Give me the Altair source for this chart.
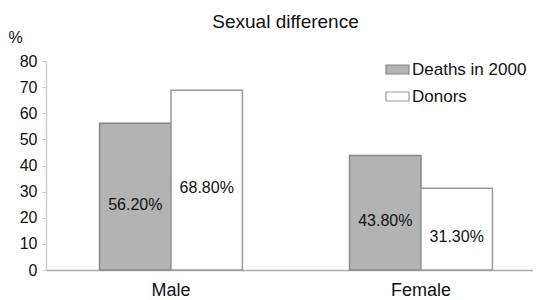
import altair as alt
import pandas as pd

categories = ["Male", "Male", "Female", "Female"]
series = ["Deaths in 2000", "Donors", "Deaths in 2000", "Donors"]
values = [56.2, 68.8, 43.8, 31.3]
labels = ["56.20%", "68.80%", "43.80%", "31.30%"]
y_ticks = [0, 10, 20, 30, 40, 50, 60, 70, 80]

df = pd.DataFrame({"cat": categories, "series": series, "value": values, "label": labels})

font = "Liberation Sans"

x = alt.X("cat:N", sort=["Male", "Female"], title=None,
          scale=alt.Scale(range=[0, 500], paddingInner=0, paddingOuter=0),
          axis=alt.Axis(labelAngle=0, labelFontSize=18, labelFont=font, labelColor="#111",
                        ticks=False, labelPadding=11, domainColor="#aaaaaa", domainWidth=1.5))
xo = alt.XOffset("series:N", sort=["Deaths in 2000", "Donors"],
                 scale=alt.Scale(paddingOuter=0.75, paddingInner=0))

yaxis = alt.Axis(values=y_ticks, grid=False, title="%",
                 labelOverlap=False,
                 titleAngle=0, titleX=-38, titleY=-24, titleAlign="left",
                 titleBaseline="middle", titleFontSize=16, titleFont=font,
                 titleFontWeight="normal", titleColor="#111",
                 labelFontSize=16, labelFont=font, labelColor="#111",
                 tickColor="#cccccc", tickSize=4, labelPadding=5,
                 domainColor="#cccccc", domainWidth=1.5)
yscale = alt.Scale(domain=[0, 80])

bars = alt.Chart(df).mark_bar(strokeWidth=1.5).encode(
    x=x, xOffset=xo,
    y=alt.Y("value:Q", scale=yscale, axis=yaxis),
    fill=alt.Fill("series:N", sort=["Deaths in 2000", "Donors"],
                  scale=alt.Scale(domain=["Deaths in 2000", "Donors"], range=["#b3b3b3", "#ffffff"]),
                  legend=alt.Legend(title=None, orient="none", legendX=339, legendY=-4,
                                    labelFontSize=17, labelFont=font, labelColor="#111",
                                    symbolType="M-1,-0.39L1,-0.39L1,0.39L-1,0.39Z", symbolSize=529,
                                    symbolStrokeWidth=1.2, rowPadding=6, padding=0, labelOffset=2)),
    stroke=alt.Stroke("series:N", sort=["Deaths in 2000", "Donors"],
                      scale=alt.Scale(domain=["Deaths in 2000", "Donors"], range=["#888888", "#999999"]),
                      legend=None),
)

text = alt.Chart(df).transform_calculate(mid="datum.value / 2").mark_text(
    fontSize=16, font=font, color="#111", dy=8
).encode(x=x, xOffset=xo, y=alt.Y("mid:Q", scale=yscale, axis=yaxis), text="label:N")

chart = alt.layer(bars, text).properties(
    width=487, height=209,
    title=alt.TitleParams("Sexual difference", fontSize=19, font=font, fontWeight="normal",
                          color="#111", anchor="middle", offset=-3, dx=-4),
    padding={"left": 38, "top": 53, "right": 0, "bottom": 30},
    autosize=alt.AutoSizeParams(type="none"),
).configure_view(stroke=None)

chart.save("out.html", embed_options={"renderer": "svg", "actions": False})
